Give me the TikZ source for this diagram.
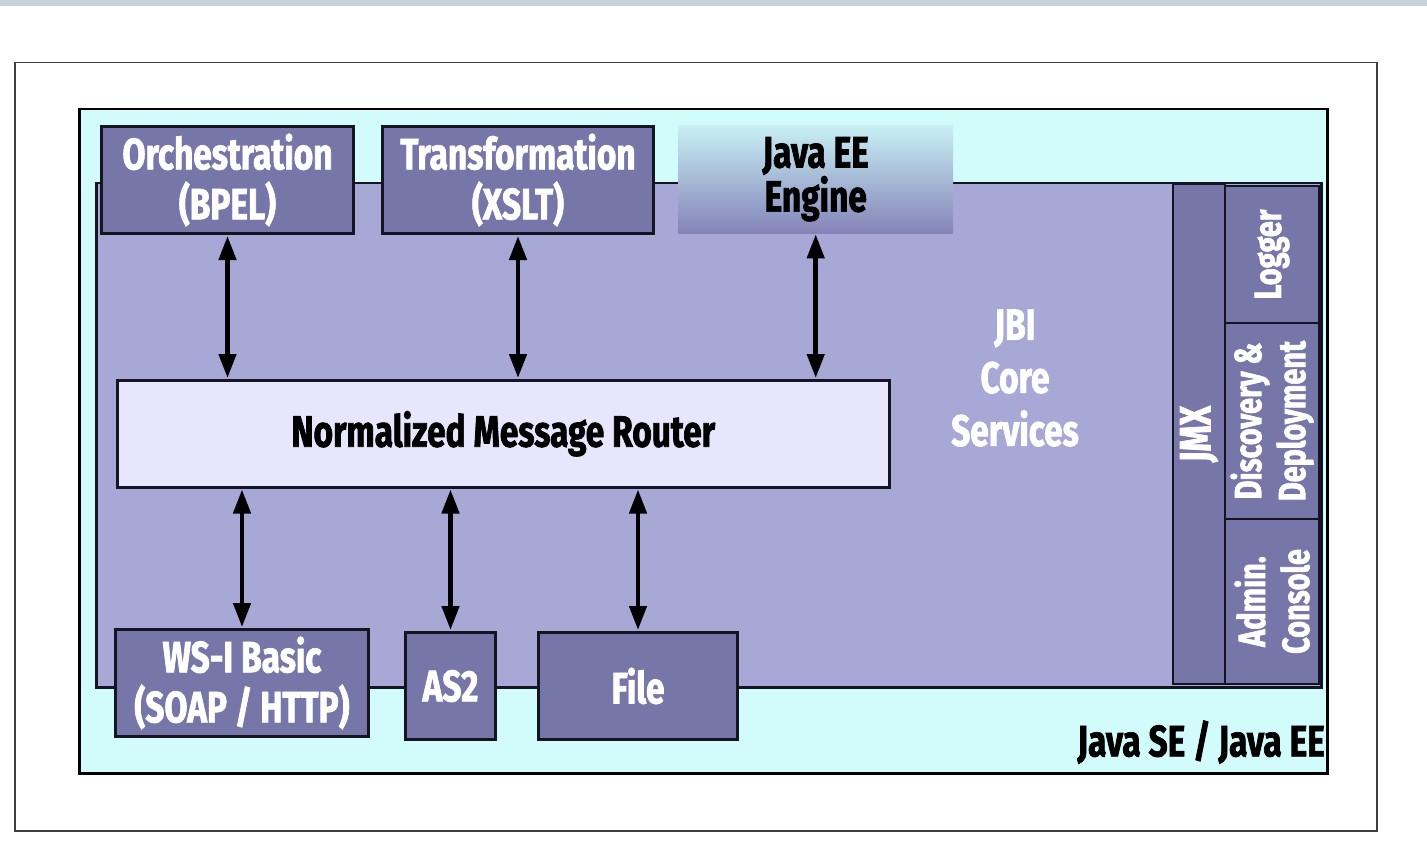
\documentclass[tikz,border=0pt]{standalone}
\usepackage{fontspec}
\newfontfamily\cf{Fira Sans}[FakeStretch=0.76, FakeBold=1.6]
\usetikzlibrary{arrows.meta}
\definecolor{stripc}{RGB}{200,210,218}
\definecolor{cyanbg}{RGB}{210,252,252}
\definecolor{panelc}{RGB}{168,168,214}
\definecolor{boxc}{RGB}{118,118,168}
\definecolor{nmrc}{RGB}{232,230,252}
\definecolor{edgec}{RGB}{20,20,35}
\definecolor{engtop}{RGB}{200,240,244}
\definecolor{engbot}{RGB}{132,132,184}
\tikzset{
  outerframe/.style={draw=black!75, line width=1.5pt, fill=white, inner sep=0pt},
  cyanpanel/.style={draw=black, line width=2.5pt, fill=cyanbg, inner sep=0pt},
  jbipanel/.style={draw=edgec, line width=2.5pt, fill=panelc, inner sep=0pt},
  compbox/.style={draw=edgec, line width=3pt, fill=boxc, text=white, inner sep=0pt, align=center, font=\cf\bfseries\fontsize{44}{50}\selectfont},
  sidebox/.style={draw=edgec, line width=2pt, fill=boxc, inner sep=0pt},
  sidetext/.style={text=white, rotate=90, align=center, font=\cf\bfseries\fontsize{38}{44}\selectfont},
  engbox/.style={top color=engtop, bottom color=engbot, draw=none, inner sep=0pt, align=center, font=\cf\bfseries\fontsize{44}{40}\selectfont},
  nmrbox/.style={draw=edgec, line width=2.5pt, fill=nmrc, inner sep=0pt, font=\cf\bfseries\fontsize{44}{50}\selectfont},
  dbl/.style={line width=4.5pt, {Triangle[width=17pt,length=24pt]}-{Triangle[width=17pt,length=24pt]}, shorten <=1pt, shorten >=1pt},
}
\begin{document}
\begin{tikzpicture}[x=1pt,y=-1pt]
\useasboundingbox (0,0) rectangle (1427,861);
\fill[stripc] (0,0) rectangle (1427,6);
\node[outerframe, anchor=north west, minimum width=1362, minimum height=768] (outer) at (14,62) {};
\node[cyanpanel, anchor=north west, minimum width=1248, minimum height=664] (cyan) at (78,108) {};
\node[jbipanel, anchor=north west, minimum width=1225, minimum height=504] (jbi) at (95,182) {};
% right column
\node[sidebox, anchor=north west, minimum width=52, minimum height=500] (jmx) at (1172,183) {};
\node[sidebox, anchor=north west, minimum width=94, minimum height=137] (logger) at (1224,185) {};
\node[sidebox, anchor=north west, minimum width=94, minimum height=196] (disc) at (1224,322) {};
\node[sidebox, anchor=north west, minimum width=94, minimum height=165] (admin) at (1224,518) {};
\node[sidetext, font=\cf\bfseries\fontsize{44}{44}\selectfont] (jmxt) at (jmx.center) {JMX};
\node[sidetext] (loggert) at (logger.center) {Logger};
\node[sidetext] (disct) at (disc.center) {Discovery \&\\Deployment};
\node[sidetext] (admint) at (admin.center) {Admin.\\Console};
% JBI core services label
\node[text=white, align=center, font=\cf\bfseries\fontsize{44}{53}\selectfont] (core) at (1015,378) {JBI\\Core\\Services};
% top components
\node[compbox, anchor=north west, minimum width=252, minimum height=107] (orch) at (100,125) {Orchestration\\(BPEL)};
\node[compbox, anchor=north west, minimum width=271, minimum height=107] (xslt) at (381,125) {Transformation\\(XSLT)};
\node[engbox, anchor=north west, minimum width=275, minimum height=108] (eng) at (678,125) {Java EE\\Engine};
% router
\node[nmrbox, anchor=north west, minimum width=772, minimum height=107] (nmr) at (116,379) {Normalized Message Router};
% bottom components
\node[compbox, anchor=north west, minimum width=253, minimum height=107] (ws) at (114,628) {WS-I Basic\\(SOAP / HTTP)};
\node[compbox, anchor=north west, minimum width=90, minimum height=107] (as2) at (404,631) {AS2};
\node[compbox, anchor=north west, minimum width=199, minimum height=107] (file) at (537,631) {File};
% platform label
\node[anchor=south east, inner sep=0pt, font=\cf\bfseries\fontsize{44}{50}\selectfont] (java) at (1325,764) {Java SE / Java EE};
% connectors
\draw[dbl] (orch.south) -- (orch.south |- nmr.north);
\draw[dbl] (xslt.south) -- (xslt.south |- nmr.north);
\draw[dbl] (eng.south) -- (eng.south |- nmr.north);
\draw[dbl] (nmr.south -| ws.north) -- (ws.north);
\draw[dbl] (nmr.south -| as2.north) -- (as2.north);
\draw[dbl] (nmr.south -| file.north) -- (file.north);
\end{tikzpicture}
\end{document}
